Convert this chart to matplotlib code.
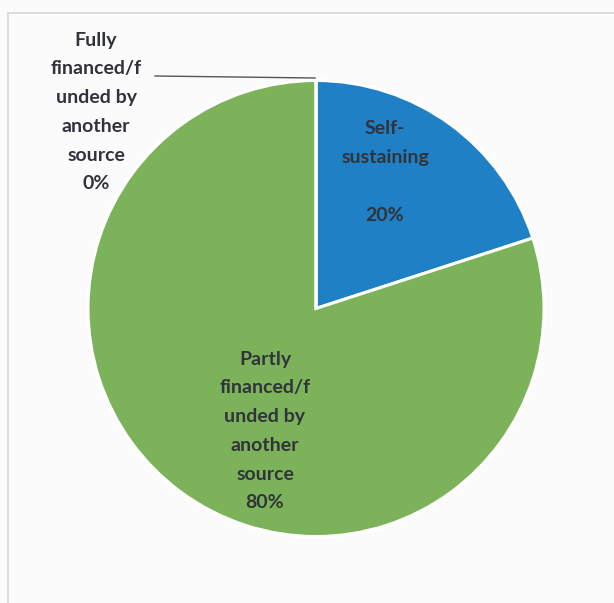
import matplotlib
matplotlib.use("Agg")
import matplotlib.pyplot as plt
from matplotlib.patches import Rectangle

# Funding status of the activities (share, %)
categories = ["Self-\nsustaining", "Partly\nfinanced/f\nunded by\nanother\nsource",
              "Fully\nfinanced/f\nunded by\nanother\nsource"]
shares = [20, 80, 0]
colors = ["#1f80c6", "#7cb35a", "#7cb35a"]

W, H = 614, 603
fig = plt.figure(figsize=(W / 100, H / 100), dpi=100, facecolor="#fbfbfb")
ax = fig.add_axes([0, 0, 1, 1])

# light chart-area frame
ax.add_patch(Rectangle((8, -5), W, H - 13 + 5, fill=False, edgecolor="#d6d6d6", lw=1.2))

cx, cy, r = 316, H - 308.5, 228
wedges, _ = ax.pie(shares, colors=colors, startangle=90, counterclock=False,
                   center=(cx, cy), radius=r, frame=True,
                   wedgeprops=dict(edgecolor="white", linewidth=2.2))
ax.set_xlim(0, W)
ax.set_ylim(0, H)
ax.set_aspect("auto")
ax.axis("off")

font = dict(family=["Lato", "DejaVu Sans"], fontsize=14, fontweight="bold",
            color="#30343a", ha="center", va="center", linespacing=1.84)

# Self-sustaining
ax.text(385, H - 172, f"{categories[0]}\n\n{shares[0]}%", **font)
# Partly financed
ax.text(265, H - 431, f"{categories[1]}\n{shares[1]}%", **font)
# Fully financed (zero slice) with leader line
ax.text(96, H - 112, f"{categories[2]}\n{shares[2]}%", **font)
ax.plot([155, cx - 1], [H - 76, H - 78], color="#555555", lw=1)

fig.savefig("out.png", dpi=100, facecolor=fig.get_facecolor())
